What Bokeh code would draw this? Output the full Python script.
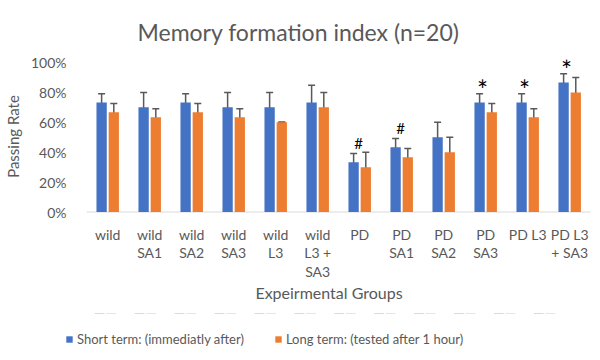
from bokeh.plotting import figure
from bokeh.layouts import column
from bokeh.models import Range1d, FixedTicker, PrintfTickFormatter, Whisker, TeeHead, ColumnDataSource, Legend, LegendItem
from bokeh.embed import file_html
from bokeh.resources import INLINE
from bokeh.core.properties import value

categories = ["wild", "wild\nSA1", "wild\nSA2", "wild\nSA3", "wild\nL3", "wild\nL3 +\nSA3",
              "PD", "PD\nSA1", "PD\nSA2", "PD\nSA3", "PD L3", "PD L3\n+ SA3"]
short_term = [73.3, 70.0, 73.3, 70.0, 70.0, 73.3, 33.3, 43.3, 50.0, 73.3, 73.3, 86.7]
short_err = [5.8, 10.0, 5.8, 10.0, 10.0, 11.5, 5.8, 5.8, 10.0, 5.8, 5.8, 5.8]
long_term = [66.7, 63.3, 66.7, 63.3, 60.0, 70.0, 30.0, 36.7, 40.0, 66.7, 63.3, 80.0]
long_err = [5.8, 5.8, 5.8, 5.8, 0.0, 10.0, 10.0, 5.8, 10.0, 5.8, 5.8, 10.0]
markers = ["", "", "", "", "", "", "#", "#", "", "*", "*", "*"]
series_names = ["Short term: (immediatly after)", "Long term: (tested after 1 hour)"]
y_ticks = [0, 20, 40, 60, 80, 100]

FONT = "Lato"
GREY = "#595959"
BLUE = "#4472C4"
ORANGE = "#ED7D31"

pos = list(range(1, len(categories) + 1))
off = 0.145
bw = 0.245

src = ColumnDataSource(dict(
    xs=[p - off for p in pos], xl=[p + off for p in pos],
    s=short_term, l=long_term,
    s_lo=[v - e for v, e in zip(short_term, short_err)],
    s_hi=[v + e for v, e in zip(short_term, short_err)],
    l_lo=[v - e for v, e in zip(long_term, long_err)],
    l_hi=[v + e for v, e in zip(long_term, long_err)],
))

p = figure(frame_width=527, frame_height=154, output_backend="svg", toolbar_location=None,
           x_range=Range1d(-0.005, 12.543), y_range=Range1d(-1, 102),
           min_border_left=57, min_border_right=0, min_border_top=59, min_border_bottom=100,
           title="Memory formation index (n=20)")
p.outline_line_color = None
p.grid.grid_line_color = None

p.title.text_font = FONT
p.title.text_font_size = "23px"
p.title.text_font_style = "normal"
p.title.text_color = GREY
p.title.align = "left"
p.title.offset = 72
p.title.standoff = 27

# baseline of the category axis (spans the category slots only)
p.segment(x0=[0.5], y0=[0], x1=[len(categories) + 0.5], y1=[0], line_color="#d9d9d9", line_width=1)

p.vbar(x="xs", top="s", width=bw, source=src, color=BLUE, line_color=None)
p.vbar(x="xl", top="l", width=bw, source=src, color=ORANGE, line_color=None)

for xcol, lo, hi in (("xs", "s_lo", "s_hi"), ("xl", "l_lo", "l_hi")):
    w = Whisker(base=xcol, lower=lo, upper=hi, source=src, dimension="height",
                line_color=GREY, line_width=1.5,
                upper_head=TeeHead(size=7, line_color=GREY, line_width=1.5),
                lower_head=TeeHead(size=7, line_color=GREY, line_width=1.5))
    p.add_layout(w)

hx = [p_ - off for p_, m in zip(pos, markers) if m == "#"]
hy = [v + e for v, e, m in zip(short_term, short_err, markers) if m == "#"]
p.text(x=hx, y=hy, text=["#"] * len(hx), text_font=value(FONT), text_font_size="15px",
       text_color="black", text_align="center", text_baseline="middle", x_offset=5, y_offset=-11)
sx = [p_ - off for p_, m in zip(pos, markers) if m == "*"]
sy = [v + e for v, e, m in zip(short_term, short_err, markers) if m == "*"]
p.text(x=sx, y=sy, text=["*"] * len(sx), text_font=value(FONT), text_font_size="26px",
       text_color="black", text_align="center", text_baseline="middle", x_offset=3, y_offset=-4)

p.xaxis.ticker = FixedTicker(ticks=pos)
p.xaxis.major_label_overrides = {i: c for i, c in zip(pos, categories)}
p.xaxis.major_tick_line_color = None
p.xaxis.minor_tick_line_color = None
p.xaxis.axis_line_color = None
p.xaxis.major_label_text_font = FONT
p.xaxis.major_label_text_font_size = "14px"
p.xaxis.major_label_text_color = GREY
p.xaxis.major_label_text_line_height = 1.1
p.xaxis.major_label_standoff = 6
p.xaxis.axis_label = "Expeirmental Groups"
p.xaxis.axis_label_text_font = FONT
p.xaxis.axis_label_text_font_size = "16px"
p.xaxis.axis_label_text_font_style = "normal"
p.xaxis.axis_label_text_color = GREY
p.xaxis.axis_label_standoff = 0

p.yaxis.ticker = FixedTicker(ticks=y_ticks)
p.yaxis.formatter = PrintfTickFormatter(format="%d%%")
p.yaxis.major_tick_line_color = None
p.yaxis.minor_tick_line_color = None
p.yaxis.axis_line_color = None
p.yaxis.major_label_text_font = FONT
p.yaxis.major_label_text_font_size = "14px"
p.yaxis.major_label_text_color = GREY
p.yaxis.major_label_standoff = -7
p.yaxis.axis_label = "Passing Rate"
p.yaxis.axis_label_text_font = FONT
p.yaxis.axis_label_text_font_size = "15px"
p.yaxis.axis_label_text_font_style = "normal"
p.yaxis.axis_label_text_color = GREY
p.yaxis.axis_label_standoff = 6

# legend strip underneath the chart (its bars fall outside its own y range, only the legend shows)
p2 = figure(width=584, height=40, output_backend="svg", toolbar_location=None,
            x_axis_location=None, y_axis_location=None,
            x_range=Range1d(0, 13), y_range=Range1d(-2, -1),
            min_border_left=0, min_border_right=0, min_border_top=0, min_border_bottom=0)
p2.outline_line_color = None
p2.grid.grid_line_color = None
r1 = p2.vbar(x="xs", top="s", width=bw, source=src, color=BLUE, line_color=None)
r2 = p2.vbar(x="xl", top="l", width=bw, source=src, color=ORANGE, line_color=None)

legend = Legend(items=[LegendItem(label=series_names[0], renderers=[r1]),
                       LegendItem(label=series_names[1], renderers=[r2])],
                orientation="horizontal", location=(0, 6), border_line_color=None,
                background_fill_alpha=0,
                label_text_font=FONT, label_text_font_size="13px", label_text_color=GREY,
                glyph_width=8, glyph_height=8, label_standoff=4, spacing=30,
                padding=4, label_height=12, margin=0)
p2.add_layout(legend, "center")

open("out.html", "w").write(file_html(column(p, p2), INLINE))
